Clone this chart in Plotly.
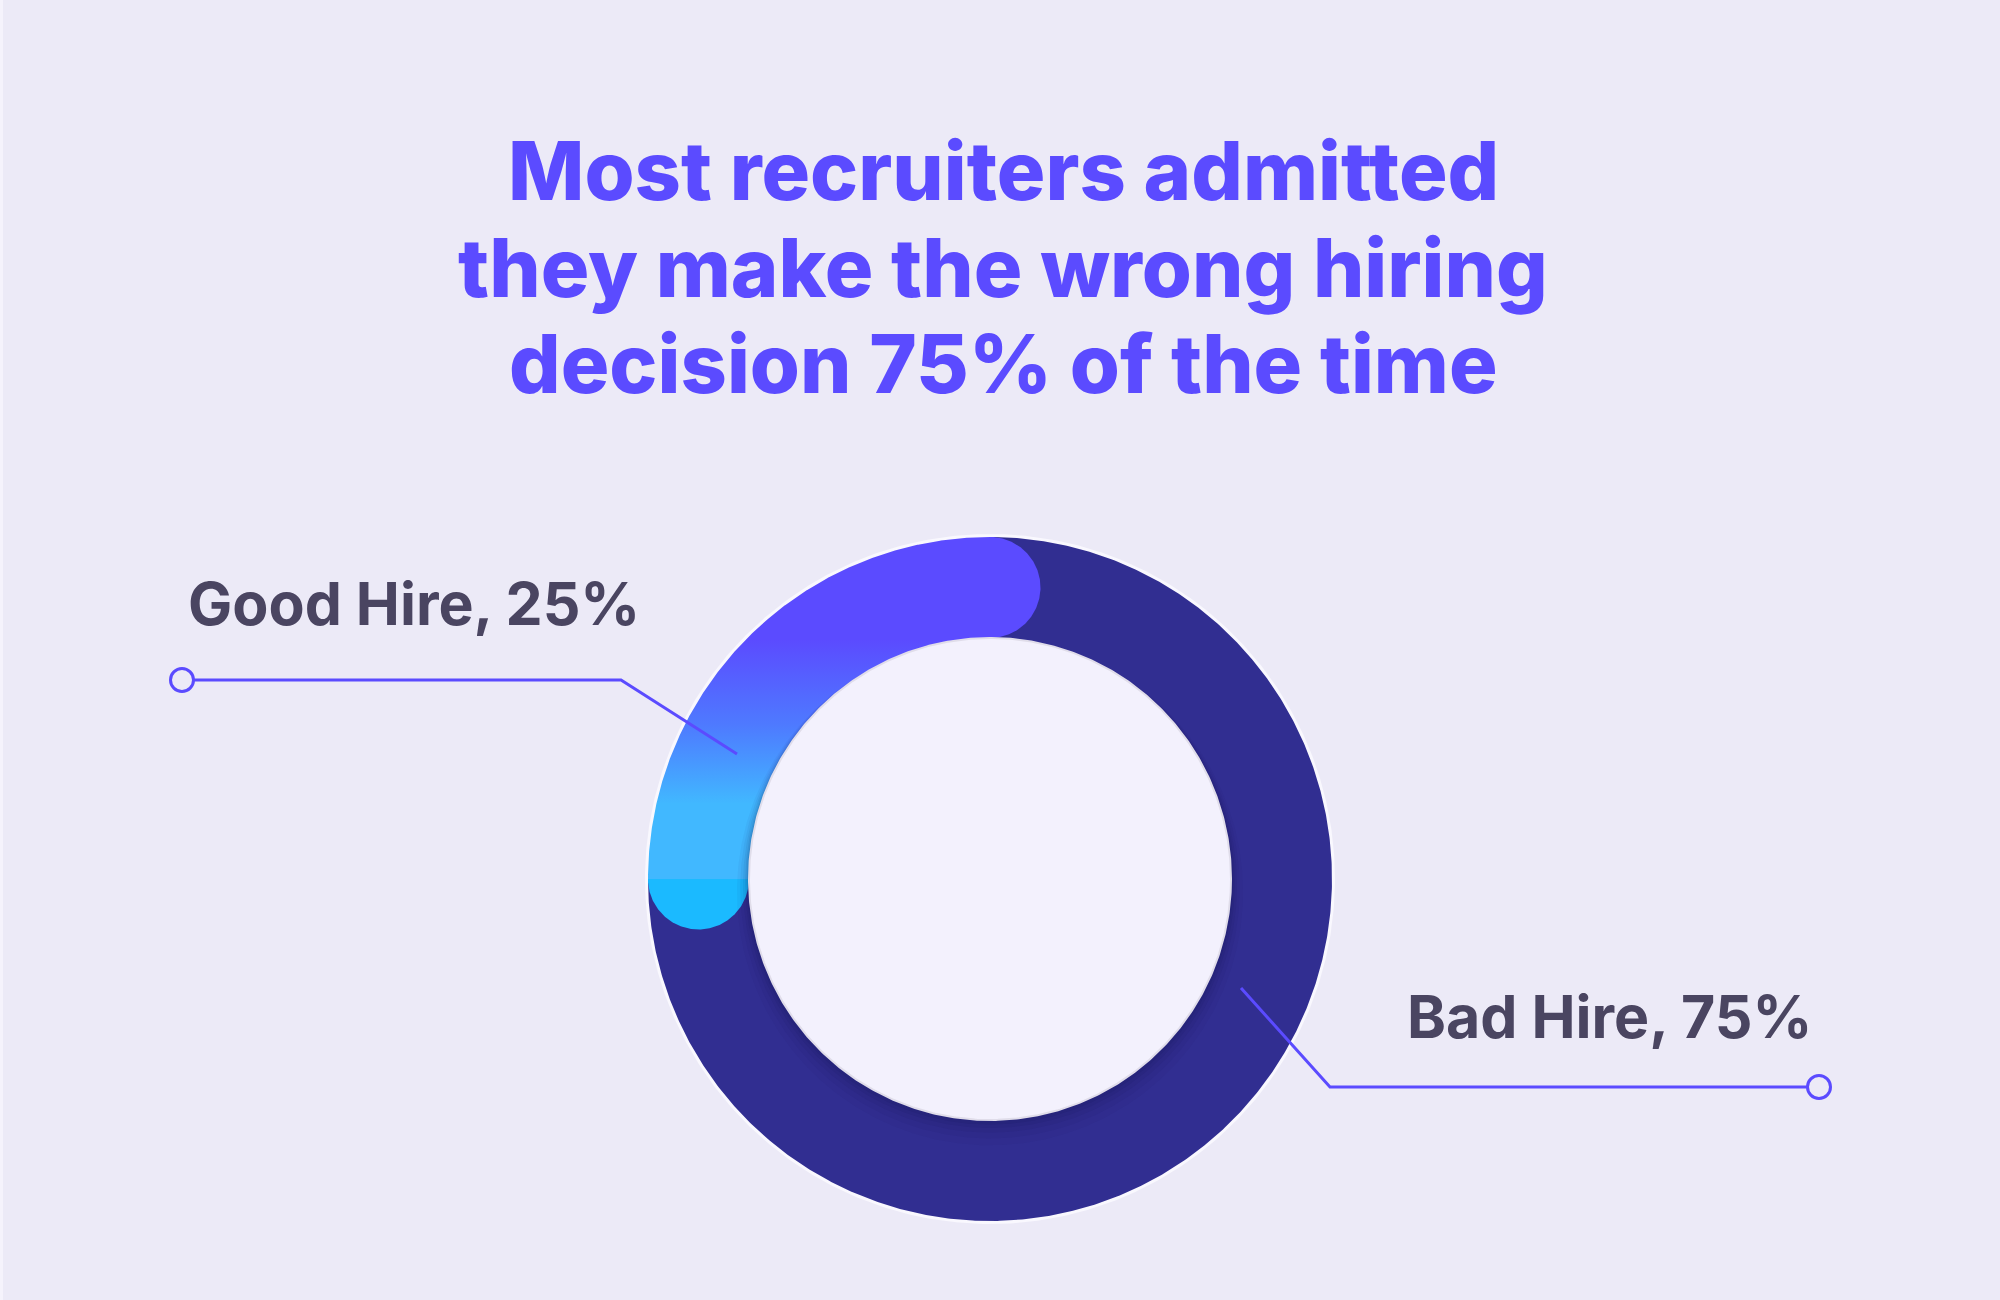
import numpy as np
import plotly.graph_objects as go

# ---------------- data ----------------
categories = ["Good Hire", "Bad Hire"]
values = [25, 75]
title_lines = [
    "Most recruiters admitted",
    "they make the wrong hiring",
    "decision 75% of the time",
]

# ---------------- style / layout constants ----------------
W, H = 2000, 1300
BG = "#ECEAF7"
PURPLE = "#5B4BFF"
NAVY = "#312E91"
CYAN = "#41B8FF"
CYAN_CAP = "#1BBAFF"
INNER = "#F3F1FD"
LABEL = "#4A4561"

CX, CY = 990, 879          # donut centre (pixel space)
R_OUT, R_IN = 342, 241
R_MID = (R_OUT + R_IN) / 2
CAP_R = (R_OUT - R_IN) / 2

fig = go.Figure()


def ring_path(a0, a1, n=720):
    t = np.radians(np.linspace(a0, a1, n))
    xo = CX + R_OUT * np.cos(t)
    yo = CY - R_OUT * np.sin(t)
    xi = CX + R_IN * np.cos(t[::-1])
    yi = CY - R_IN * np.sin(t[::-1])
    return np.r_[xo, xi, xo[0]], np.r_[yo, yi, yo[0]]


def cap_path(theta, forward):
    th = np.radians(theta)
    c = np.array([CX + R_MID * np.cos(th), CY - R_MID * np.sin(th)])
    u = np.array([np.cos(th), -np.sin(th)])
    d = np.array([np.sin(th), np.cos(th)]) * (-1 if forward else 1)
    ph = np.radians(np.linspace(-90, 90, 180))
    pts = c[None, :] + CAP_R * (np.cos(ph)[:, None] * d + np.sin(ph)[:, None] * u)
    return np.r_[pts[:, 0], pts[0, 0]], np.r_[pts[:, 1], pts[0, 1]]


def circle_path(cx, cy, r, n=720):
    t = np.linspace(0, 2 * np.pi, n)
    return cx + r * np.cos(t), cy - r * np.sin(t)


# outer light rim
x, y = circle_path(CX, CY, R_OUT + 3)
fig.add_trace(go.Scatter(x=x, y=y, fill="toself", fillcolor="#F9F8FE", mode="lines",
                         line=dict(width=0), hoverinfo="skip", showlegend=False))

# angles from data
total = sum(values)
good_span = values[0] / total * 360
start = 90
good_a0, good_a1 = start, start + good_span
bad_a0, bad_a1 = good_a1, start + 360

# bad hire arc
x, y = ring_path(bad_a0, bad_a1)
fig.add_trace(go.Scatter(x=x, y=y, fill="toself", fillcolor=NAVY, mode="lines",
                         line=dict(width=0), name=categories[1], hoverinfo="skip",
                         showlegend=False))

# good hire arc with gradient
x, y = ring_path(good_a0, good_a1)
fig.add_trace(go.Scatter(
    x=x, y=y, fill="toself", mode="lines", line=dict(width=0),
    fillgradient=dict(type="vertical",
                      colorscale=[[0, PURPLE], [0.3, PURPLE], [0.55, "#4E7AFF"],
                                  [0.78, CYAN], [1, CYAN]],
                      start=CY - R_OUT, stop=CY),
    name=categories[0], hoverinfo="skip", showlegend=False))

# rounded caps
x, y = cap_path(good_a0, forward=False)
fig.add_trace(go.Scatter(x=x, y=y, fill="toself", fillcolor=PURPLE, mode="lines",
                         line=dict(width=0), hoverinfo="skip", showlegend=False))
x, y = cap_path(good_a1, forward=True)
fig.add_trace(go.Scatter(x=x, y=y, fill="toself", fillcolor=CYAN_CAP, mode="lines",
                         line=dict(width=0), hoverinfo="skip", showlegend=False))

# soft shadow of inner disc
for k, a in [(22, 0.04), (16, 0.05), (11, 0.06), (7, 0.07), (4, 0.08)]:
    x, y = circle_path(CX, CY + k * 0.6, R_IN + k * 0.55)
    fig.add_trace(go.Scatter(x=x, y=y, fill="toself", fillcolor=f"rgba(15,10,70,{a})",
                             mode="lines", line=dict(width=0), hoverinfo="skip",
                             showlegend=False))

# inner disc
x, y = circle_path(CX, CY, R_IN)
fig.add_trace(go.Scatter(x=x, y=y, fill="toself", fillcolor=INNER, mode="lines",
                         line=dict(width=2, color="#E0DDEA"), hoverinfo="skip",
                         showlegend=False))

# ---------------- leader lines ----------------
LEAD = {
    "good": dict(circle=(182, 680), path=[(194, 680), (621, 680), (737, 754)]),
    "bad": dict(circle=(1819, 1087), path=[(1241, 988), (1330, 1087), (1807, 1087)]),
}
shapes = []
for key in ("good", "bad"):
    p = LEAD[key]["path"]
    d = "M " + " L ".join(f"{a},{b}" for a, b in p)
    shapes.append(dict(type="path", path=d, xref="x", yref="y",
                       line=dict(color=PURPLE, width=3)))
    cx, cy = LEAD[key]["circle"]
    r = 11.5
    shapes.append(dict(type="circle", xref="x", yref="y", x0=cx - r, x1=cx + r,
                       y0=cy - r, y1=cy + r, line=dict(color=PURPLE, width=3),
                       fillcolor=BG))
# left edge strip
shapes.append(dict(type="rect", xref="paper", yref="paper", x0=0, x1=0.0015, y0=0, y1=1,
                   line=dict(width=0), fillcolor="#F5F3FC", layer="above"))

# ---------------- text ----------------
annotations = []
title_y = [171, 268, 364]
for line, yy in zip(title_lines, title_y):
    annotations.append(dict(text=line, x=1003, y=yy, xref="x", yref="y",
                            xanchor="center", yanchor="middle", showarrow=False,
                            font=dict(family="Inter", size=81, color=PURPLE, weight=800)))

label_pos = [(186, 603), (1405, 1016)]
for cat, val, (lx, ly) in zip(categories, values, label_pos):
    annotations.append(dict(text=f"{cat}, {val}%", x=lx, y=ly, xref="x", yref="y",
                            xanchor="left", yanchor="middle", showarrow=False,
                            font=dict(family="Inter", size=59, color=LABEL, weight=700)))

fig.update_layout(
    width=W, height=H, margin=dict(l=0, r=0, t=0, b=0),
    paper_bgcolor=BG, plot_bgcolor=BG,
    xaxis=dict(range=[0, W], visible=False, fixedrange=True),
    yaxis=dict(range=[H, 0], visible=False, fixedrange=True),
    shapes=shapes, annotations=annotations, showlegend=False,
)

fig.write_html("out.html", config={"displayModeBar": False},
               post_script="document.body.style.margin='0';")
